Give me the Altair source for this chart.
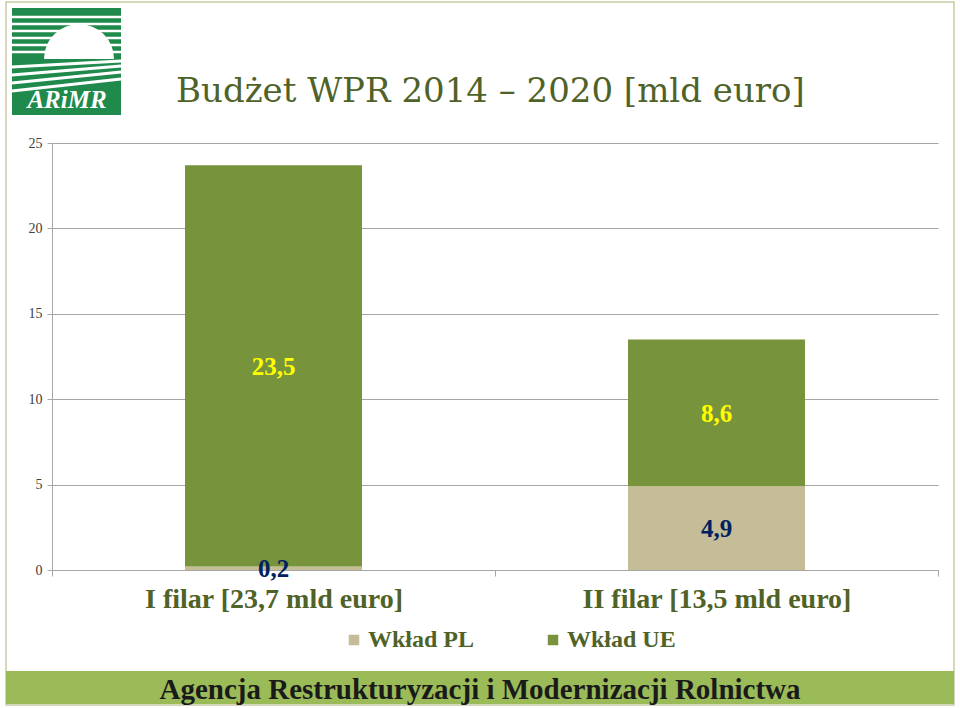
import altair as alt
import pandas as pd

# ---- data ----
filary = ["I filar [23,7 mld euro]", "II filar [13,5 mld euro]"]
wklad_pl = [0.2, 4.9]
wklad_ue = [23.5, 8.6]
series = ["Wkład PL", "Wkład UE"]
series_colors = ["#c4bd97", "#77933c"]
label_colors = ["#002060", "#ffff00"]
y_ticks = [0, 5, 10, 15, 20, 25]
title_text = "Budżet WPR 2014 – 2020 [mld euro]"
footer_text = "Agencja Restrukturyzacji i Modernizacji Rolnictwa"

rows = []
for i, f in enumerate(filary):
    for j, (s, vals) in enumerate(zip(series, [wklad_pl, wklad_ue])):
        v = vals[i]
        rows.append({"filar": f, "series": s, "value": v, "ord": j,
                     "label": f"{v:.1f}".replace(".", ",")})
df = pd.DataFrame(rows)

SERIF = "Liberation Serif"
TITLE_FONT = "DejaVu Serif"
OLIVE = "#4f6228"
GRAY = "#a6a6a6"

W, H = 886, 427
PAD = {"left": 52, "top": 143, "right": 22, "bottom": 138}

x_enc = alt.X("filar:N", sort=filary,
              scale=alt.Scale(paddingInner=0, paddingOuter=0),
              axis=alt.Axis(title=None, labelAngle=0, tickBand="extent",
                            labelFont=SERIF, labelFontWeight="bold",
                            labelFontSize=28, labelColor=OLIVE, labelLimit=0,
                            labelPadding=9, tickSize=6, tickColor=GRAY,
                            domainColor=GRAY, grid=False))

y_enc = alt.Y("value:Q", stack="zero",
              scale=alt.Scale(domain=[0, 25], nice=False),
              axis=alt.Axis(title=None, values=y_ticks, grid=True,
                            gridColor=GRAY, domainColor=GRAY, tickColor=GRAY,
                            tickSize=5, labelPadding=5, labelFont=SERIF,
                            labelFontSize=14, labelColor="#404040"))

bars = alt.Chart(df).mark_bar(size=177).encode(
    x=x_enc,
    y=y_enc,
    color=alt.Color("series:N", scale=alt.Scale(domain=series, range=series_colors),
                    legend=alt.Legend(title=None, orient="none", legendX=290,
                                      legendY=485, direction="horizontal",
                                      symbolType="square", symbolSize=110,
                                      symbolStrokeWidth=0, labelFont=SERIF,
                                      labelFontWeight="bold", labelFontSize=24,
                                      labelColor=OLIVE, labelOffset=2,
                                      columnPadding=66)),
    order=alt.Order("ord:Q"),
)

labels = alt.Chart(df).transform_stack(
    stack="value", groupby=["filar"], as_=["y0", "y1"],
    sort=[alt.SortField("ord", order="ascending")]
).transform_calculate(
    mid="(datum.y0 + datum.y1) / 2"
).mark_text(font=SERIF, fontWeight="bold", fontSize=25, baseline="middle", dy=1).encode(
    x=alt.X("filar:N", sort=filary),
    y=alt.Y("mid:Q"),
    text="label:N",
    color=alt.condition(alt.datum.series == series[1],
                        alt.value(label_colors[1]), alt.value(label_colors[0])),
)

one = alt.Data(values=[{}])

border = alt.Chart(one).mark_rect(fill="transparent", stroke="#c9c9a5",
                                  strokeWidth=1.5, clip=False).encode(
    x=alt.value(-46), x2=alt.value(902), y=alt.value(-141), y2=alt.value(562))

banner = alt.Chart(one).mark_rect(fill="#9bbb59", clip=False).encode(
    x=alt.value(-46), x2=alt.value(902), y=alt.value(528), y2=alt.value(561))

footer = alt.Chart(one).mark_text(font=SERIF, fontWeight="bold", fontSize=29,
                                  color="#1a1a1a", baseline="middle", align="center").encode(
    x=alt.value(428), y=alt.value(547), text=alt.value(footer_text))

title = alt.Chart(one).mark_text(font=TITLE_FONT, fontSize=34, color=OLIVE,
                                 baseline="alphabetic", align="left").encode(
    x=alt.value(124), y=alt.value(-41), text=alt.value(title_text))

# ---- logo (decoration) ----
LOGO_G = "#1f8a4c"
logo_bg = alt.Chart(one).mark_rect(fill=LOGO_G).encode(
    x=alt.value(-40), x2=alt.value(69), y=alt.value(-135), y2=alt.value(-28))

stripe_y = [-126, -119, -112, -105, -98, -91]
stripe_df = alt.Data(values=[{"yy": v} for v in stripe_y])
stripes = alt.Chart(stripe_df).mark_rule(color="white", strokeWidth=2.5).encode(
    x=alt.value(-40), x2=alt.value(69), y=alt.Y("yy:Q", scale=None))

sun = alt.Chart(one).mark_arc(color="white").encode(
    x=alt.value(27), y=alt.value(-84), radius=alt.value(35),
    theta=alt.value(4.712), theta2=alt.value(7.854))

sun_base = alt.Chart(one).mark_rect(fill=LOGO_G).encode(
    x=alt.value(-40), x2=alt.value(69), y=alt.value(-84), y2=alt.value(-79))

field_lines = [(-76, -82), (-68, -77), (-60, -71), (-52, -64)]
field_df = alt.Data(values=[{"ya": a, "yb": b} for a, b in field_lines])
fields = alt.Chart(field_df).mark_rule(color="white", strokeWidth=3).encode(
    x=alt.value(-40), x2=alt.value(69),
    y=alt.Y("ya:Q", scale=None), y2=alt.Y2("yb:Q"))

logo_text = alt.Chart(one).mark_text(font=SERIF, fontSize=25, fontWeight="bold",
                                     fontStyle="italic", color="white",
                                     align="center", baseline="alphabetic").encode(
    x=alt.value(15), y=alt.value(-35), text=alt.value("ARiMR"))

chart = alt.layer(
    bars, labels, border, banner, footer, title,
    logo_bg, stripes, sun, sun_base, fields, logo_text
).properties(
    width=W, height=H, padding=PAD,
    autosize=alt.AutoSizeParams(type="none"),
    background="white",
).configure_view(stroke=None)

chart.save("out.html", embed_options={"renderer": "svg", "actions": False})
